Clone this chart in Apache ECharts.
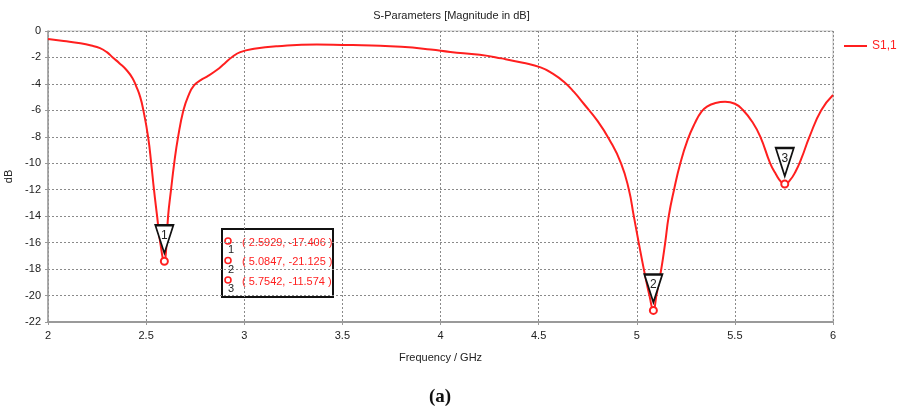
<!DOCTYPE html>
<html>
<head>
<meta charset="utf-8">
<script src="https://cdn.jsdelivr.net/npm/echarts@6/dist/echarts.min.js"></script>
<style>
  html, body { margin: 0; padding: 0; background: #fff; }
  #chart { width: 903px; height: 411px; }
</style>
</head>
<body>
<div id="chart"></div>
<script>
// Reflection coefficient S1,1 sweep, frequency in GHz and magnitude in dB
const freqGHz = [
  2.0, 2.08, 2.165, 2.22, 2.265, 2.30, 2.33, 2.365, 2.40, 2.43, 2.45, 2.47, 2.486,
  2.51, 2.526, 2.54, 2.556, 2.572, 2.5929, 2.603, 2.612, 2.627, 2.643, 2.663, 2.69,
  2.715, 2.745, 2.78, 2.81, 2.86, 2.90, 2.94, 2.98, 3.05, 3.17, 3.37, 3.5, 3.65,
  3.8, 3.95, 4.05, 4.2, 4.31, 4.42, 4.51, 4.57, 4.63, 4.68, 4.73, 4.80, 4.86, 4.92,
  4.96, 4.985, 5.01, 5.036, 5.066, 5.0847, 5.10, 5.125, 5.145, 5.163, 5.19, 5.222,
  5.26, 5.295, 5.33, 5.36, 5.40, 5.45, 5.50, 5.54, 5.59, 5.63, 5.68, 5.71, 5.735,
  5.7542, 5.78, 5.81, 5.84, 5.88, 5.94, 6.0
];
const s11dB = [
  -0.6, -0.75, -0.93, -1.1, -1.3, -1.6, -2.0, -2.45, -2.95, -3.55, -4.2, -5.0, -6.0,
  -8.0, -10.0, -12.0, -14.0, -16.0, -17.406, -16.3, -14.0, -12.0, -10.0, -8.0, -6.0,
  -4.9, -4.1, -3.7, -3.45, -2.95, -2.45, -1.95, -1.6, -1.35, -1.15, -1.02, -1.05, -1.1,
  -1.2, -1.4, -1.58, -1.8, -2.07, -2.4, -2.75, -3.2, -3.85, -4.6, -5.5, -6.8, -8.2, -10.0,
  -12.0, -14.0, -16.0, -18.0, -20.1, -21.125, -20.0, -18.0, -16.0, -14.0, -12.0, -10.0,
  -8.2, -7.0, -6.1, -5.7, -5.45, -5.35, -5.5, -5.95, -6.9, -8.0, -10.0, -10.85, -11.4,
  -11.574, -11.3, -10.6, -9.6, -8.0, -6.0, -4.84
];

// Minimum markers placed on the curve
const markerIds = ['1', '2', '3'];
const markerFreq = [2.5929, 5.0847, 5.7542];
const markerDb = [-17.406, -21.125, -11.574];

// Axis ranges
const xRange = { min: 2, max: 6, step: 0.5 };
const yRange = { min: -22, max: 0, step: 2 };

const RED = '#ff1f1f';
const FONT = 'Liberation Sans';

const curve = freqGHz.map((f, i) => [f, s11dB[i]]);
const markers = markerFreq.map((f, i) => [f, markerDb[i]]);

const chart = echarts.init(document.getElementById('chart'), null, { renderer: 'canvas' });

// Marker readout box
const boxX = 222, boxY = 229, rowH = 19.5;
const boxChildren = [{
  type: 'rect',
  shape: { x: boxX, y: boxY, width: 111, height: 68 },
  style: { fill: '#fff', stroke: '#111', lineWidth: 2 }
}];
markerIds.forEach((id, i) => {
  const cy = boxY + 12 + rowH * i;
  boxChildren.push({
    type: 'circle',
    shape: { cx: boxX + 6, cy: cy, r: 3 },
    style: { fill: '#fff', stroke: RED, lineWidth: 1.6 }
  });
  boxChildren.push({
    type: 'text',
    x: boxX + 9, y: cy + 9,
    style: { text: id, fill: '#222', font: '11px ' + FONT, textAlign: 'center', textVerticalAlign: 'middle' }
  });
  boxChildren.push({
    type: 'text',
    x: boxX + 20, y: cy + 1.5,
    style: {
      text: '( ' + markerFreq[i].toFixed(4) + ', ' + markerDb[i].toFixed(3) + ' )',
      fill: RED, font: '11px ' + FONT, textVerticalAlign: 'middle'
    }
  });
});

chart.setOption({
  animation: false,
  backgroundColor: '#fff',
  title: {
    text: 'S-Parameters [Magnitude in dB]',
    left: 'center',
    top: 5,
    textStyle: { fontFamily: FONT, fontSize: 11, fontWeight: 'normal', color: '#222' }
  },
  legend: {
    data: [{ name: 'S1,1', icon: 'rect' }],
    left: 839,
    top: 35,
    itemWidth: 23,
    itemHeight: 2,
    itemGap: 5,
    textStyle: { fontFamily: FONT, fontSize: 12, color: RED }
  },
  grid: {
    left: 48, right: 70, top: 31, bottom: 89,
    outerBoundsMode: 'none',
    containLabel: false,
    show: true, borderColor: '#c4c4c4', borderWidth: 1
  },
  xAxis: {
    type: 'value',
    min: xRange.min, max: xRange.max, interval: xRange.step,
    name: 'Frequency / GHz',
    nameLocation: 'middle',
    nameGap: 30,
    nameTextStyle: { fontFamily: FONT, fontSize: 11, color: '#222' },
    axisLine: { show: true, onZero: false, lineStyle: { color: '#9a9a9a', width: 2 } },
    axisTick: { show: true, length: 3, lineStyle: { color: '#9a9a9a' } },
    axisLabel: { fontFamily: FONT, fontSize: 11, color: '#222', margin: 8 },
    splitLine: { show: true, lineStyle: { color: '#8a8a8a', type: [2, 2], width: 1 } }
  },
  yAxis: {
    type: 'value',
    min: yRange.min, max: yRange.max, interval: yRange.step,
    name: 'dB',
    nameLocation: 'middle',
    nameGap: 32,
    nameTextStyle: { fontFamily: FONT, fontSize: 11, color: '#222' },
    axisLine: { show: true, onZero: false, lineStyle: { color: '#9a9a9a', width: 1.5 } },
    axisTick: { show: true, length: 3, lineStyle: { color: '#9a9a9a' } },
    axisLabel: { fontFamily: FONT, fontSize: 11, color: '#222', margin: 7 },
    splitLine: { show: true, lineStyle: { color: '#8a8a8a', type: [2, 2], width: 1 } }
  },
  series: [
    {
      name: 'S1,1',
      type: 'line',
      data: curve,
      showSymbol: false,
      smooth: 0.5,
      lineStyle: { color: RED, width: 2 },
      itemStyle: { color: RED },
      z: 2
    },
    {
      name: 'marker-flag',
      type: 'scatter',
      data: markers,
      symbol: 'triangle',
      symbolRotate: 180,
      symbolSize: [18, 28],
      symbolOffset: [0, -22],
      itemStyle: { color: '#fff', borderColor: '#111', borderWidth: 2, opacity: 1 },
      silent: true,
      z: 3
    },
    {
      name: 'marker-point',
      type: 'scatter',
      data: markers,
      symbol: 'circle',
      symbolSize: 7,
      itemStyle: { color: '#fff', borderColor: RED, borderWidth: 2, opacity: 1 },
      label: {
        show: true,
        position: 'top',
        distance: 15,
        formatter: p => markerIds[p.dataIndex],
        fontFamily: FONT, fontSize: 12, color: '#222'
      },
      silent: true,
      z: 4
    }
  ],
  graphic: [
    { type: 'group', z: 10, children: boxChildren },
    {
      type: 'text',
      x: 440, y: 397,
      style: {
        text: '(a)', fill: '#111', font: 'bold 19px "Liberation Serif"',
        textAlign: 'center', textVerticalAlign: 'middle'
      }
    }
  ]
});
</script>
</body>
</html>
